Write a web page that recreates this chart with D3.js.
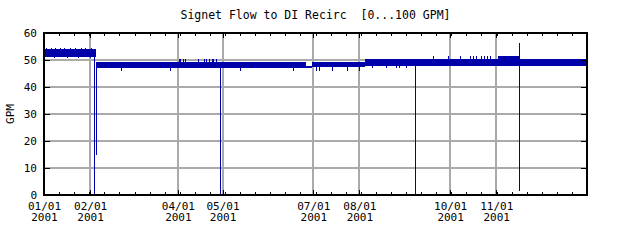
<!DOCTYPE html>
<html>
<head>
<meta charset="utf-8">
<script src="https://cdn.jsdelivr.net/npm/d3@7"></script>
<style>
  body { margin: 0; background: #fff; }
  text { font-family: "DejaVu Sans Mono", monospace; font-size: 11px; fill: #000; white-space: pre; }
</style>
</head>
<body>
<svg id="chart" width="640" height="240"></svg>
<script>
var title = "Signet Flow to DI Recirc  [0...100 GPM]";
var yLabel = "GPM";
var yTicks = [0, 10, 20, 30, 40, 50, 60];
var xDomain = ["2001-01-01", "2002-01-01"];
var xTickDates = ["2001-01-01", "2001-02-01", "2001-04-01", "2001-05-01",
                  "2001-07-01", "2001-08-01", "2001-10-01", "2001-11-01"];

// stretches where the flow trace fills a steady band
var bandStart = ["2001-01-01", "2001-02-04 18:00", "2001-06-26", "2001-06-30", "2001-08-05", "2001-11-02", "2001-11-16 12:00"];
var bandEnd   = ["2001-02-04 18:00", "2001-06-26", "2001-06-30", "2001-08-05", "2001-11-02", "2001-11-16 12:00", "2002-01-01"];
var bandLow   = [51.2, 46.9, 47.0, 47.3, 47.9, 47.9, 47.9];
var bandHigh  = [53.9, 49.2, 47.8, 49.2, 50.2, 51.3, 50.2];

// single excursions away from the band
var spikeDate = ["2001-01-03", "2001-01-06", "2001-01-09", "2001-01-12", "2001-01-15", "2001-01-19",
                 "2001-01-22", "2001-01-26", "2001-01-29", "2001-02-02",
                 "2001-01-08", "2001-01-17", "2001-01-24", "2001-02-01",
                 "2001-02-04 06:00", "2001-02-05",
                 "2001-02-22", "2001-03-27", "2001-05-13", "2001-06-18",
                 "2001-04-02", "2001-04-03", "2001-04-05", "2001-04-06", "2001-04-15", "2001-04-19",
                 "2001-04-20", "2001-04-22", "2001-04-24", "2001-04-25", "2001-04-27",
                 "2001-04-29 12:00",
                 "2001-07-03", "2001-07-05", "2001-07-14", "2001-07-24", "2001-08-01",
                 "2001-08-10", "2001-08-19", "2001-08-26", "2001-08-28", "2001-09-02",
                 "2001-09-08",
                 "2001-09-20", "2001-09-30", "2001-10-08", "2001-10-15", "2001-10-17", "2001-10-19",
                 "2001-10-22", "2001-10-24", "2001-10-26", "2001-10-28",
                 "2001-11-16 12:00"];
var spikeLow  = [53.5, 53.5, 53.5, 53.5, 53.5, 53.5, 53.5, 53.5, 53.5, 53.5,
                 50.8, 50.8, 50.8, 50.8,
                 0, 15,
                 46.0, 46.0, 46.0, 46.0,
                 48.5, 48.5, 48.5, 48.5, 48.5, 48.5, 48.5, 48.5, 48.5, 48.5, 48.5,
                 0,
                 45.9, 45.9, 45.9, 45.9, 45.9,
                 46.9, 46.9, 46.9, 46.9, 46.9,
                 0,
                 49.5, 49.5, 49.5, 49.5, 49.5, 49.5, 49.5, 49.5, 49.5, 49.5,
                 1.6];
var spikeHigh = [54.5, 54.5, 54.5, 54.5, 54.5, 54.5, 54.5, 54.5, 54.5, 54.5,
                 52.0, 52.0, 52.0, 52.0,
                 51.0, 49.0,
                 47.5, 47.5, 47.5, 47.5,
                 50.4, 50.4, 50.4, 50.4, 50.4, 50.4, 50.4, 50.4, 50.4, 50.4, 50.4,
                 47.5,
                 47.3, 47.3, 47.3, 47.3, 47.3,
                 48.0, 48.0, 48.0, 48.0, 48.0,
                 48.0,
                 51.5, 51.5, 51.5, 51.5, 51.5, 51.5, 51.5, 51.5, 51.5, 51.5,
                 56.3];

var parse = function(s) {
  return d3.timeParse(s.length > 10 ? "%Y-%m-%d %H:%M" : "%Y-%m-%d")(s);
};

var svg = d3.select("#chart");
var pLeft = 44, pRight = 587, pTop = 33, pBottom = 195;
var traceColor = "#0000aa", gridColor = "#aaaaaa";

var x = d3.scaleTime().domain(xDomain.map(parse)).range([pLeft, pRight]);
var y = d3.scaleLinear().domain([0, 60]).range([pBottom, pTop]);

// grid
svg.append("g").selectAll("line").data(yTicks.slice(1, -1)).enter().append("line")
  .attr("x1", pLeft).attr("x2", pRight)
  .attr("y1", function(d) { return Math.round(y(d)); }).attr("y2", function(d) { return Math.round(y(d)); })
  .attr("stroke", gridColor).attr("stroke-width", 2);
svg.append("g").selectAll("line").data(xTickDates.slice(1)).enter().append("line")
  .attr("x1", function(d) { return Math.round(x(parse(d))); }).attr("x2", function(d) { return Math.round(x(parse(d))); })
  .attr("y1", pTop).attr("y2", pBottom)
  .attr("stroke", gridColor).attr("stroke-width", 2);

// trace
var trace = svg.append("g").attr("fill", traceColor).attr("shape-rendering", "crispEdges");
trace.selectAll("rect.band").data(bandStart).enter().append("rect").attr("class", "band")
  .attr("x", function(d) { return x(parse(d)); })
  .attr("width", function(d, i) { return x(parse(bandEnd[i])) - x(parse(d)); })
  .attr("y", function(d, i) { return y(bandHigh[i]); })
  .attr("height", function(d, i) { return y(bandLow[i]) - y(bandHigh[i]); });
trace.selectAll("rect.spike").data(spikeDate).enter().append("rect").attr("class", "spike")
  .attr("x", function(d) { return Math.floor(x(parse(d))); })
  .attr("width", 1)
  .attr("y", function(d, i) { return y(spikeHigh[i]); })
  .attr("height", function(d, i) { return y(spikeLow[i]) - y(spikeHigh[i]); });

// frame
svg.append("rect").attr("x", pLeft).attr("y", pTop)
  .attr("width", pRight - pLeft).attr("height", pBottom - pTop)
  .attr("fill", "none").attr("stroke", "#000").attr("stroke-width", 2);

// minor ticks, top and bottom
var d0 = x.domain()[0].getTime(), d1 = x.domain()[1].getTime();
var minor = d3.range(1, 36).map(function(i) { return new Date(d0 + i * (d1 - d0) / 36); });
var ticks = svg.append("g").attr("stroke", "#000").attr("stroke-width", 1);
minor.forEach(function(d) {
  var px = Math.round(x(d)) + 0.5;
  ticks.append("line").attr("x1", px).attr("x2", px).attr("y1", pBottom).attr("y2", pBottom - 3);
  ticks.append("line").attr("x1", px).attr("x2", px).attr("y1", pTop).attr("y2", pTop + 3);
});
xTickDates.forEach(function(s) {
  var px = Math.round(x(parse(s))) + 0.5;
  ticks.append("line").attr("x1", px).attr("x2", px).attr("y1", pBottom).attr("y2", pBottom - 5);
  ticks.append("line").attr("x1", px).attr("x2", px).attr("y1", pTop).attr("y2", pTop + 5);
});
yTicks.forEach(function(v) {
  var py = Math.round(y(v)) + 0.5;
  ticks.append("line").attr("x1", pLeft).attr("x2", pLeft + 6).attr("y1", py).attr("y2", py);
  ticks.append("line").attr("x1", pRight - 6).attr("x2", pRight).attr("y1", py).attr("y2", py);
});

// labels
var fmtMD = d3.timeFormat("%m/%d"), fmtY = d3.timeFormat("%Y");
var xl = svg.append("g").attr("text-anchor", "middle");
xTickDates.forEach(function(s) {
  var d = parse(s);
  xl.append("text").attr("x", x(d) + 0.5).attr("y", 210).text(fmtMD(d));
  xl.append("text").attr("x", x(d) + 0.5).attr("y", 221).text(fmtY(d));
});
svg.append("g").attr("text-anchor", "end").selectAll("text").data(yTicks).enter().append("text")
  .attr("x", 37).attr("y", function(d) { return y(d) + 4; })
  .text(function(d) { return d; });

svg.append("text").attr("x", (pLeft + pRight) / 2).attr("y", 19)
  .attr("text-anchor", "middle").style("font-size", "11.5px").text(title);
svg.append("text").attr("transform", "translate(14," + (pTop + pBottom) / 2 + ") rotate(-90)")
  .attr("text-anchor", "middle").text(yLabel);
</script>
</body>
</html>
